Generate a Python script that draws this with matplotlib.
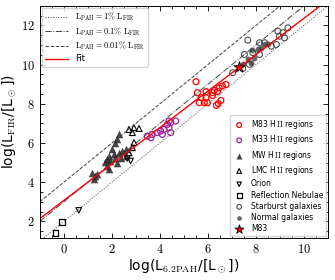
import numpy as np
import matplotlib
matplotlib.use('Agg')
import matplotlib.pyplot as plt
from matplotlib.ticker import MultipleLocator

plt.rcParams['mathtext.fontset'] = 'cm'
plt.rcParams['font.family'] = 'DejaVu Sans'

# reflection nebulae
rn_x = [-0.35, -0.08]
rn_y = [1.42, 1.96]

# Orion
ori_x = [0.62, 2.64, 2.78]
ori_y = [2.56, 5.21, 5.08]

# MW HII regions
mw_x = [2.22, 2.29, 2.15, 2.01, 1.87, 1.80, 1.73, 1.94, 2.08, 2.29, 2.43, 2.57,
        2.36, 2.15, 2.22, 2.57, 1.80, 1.87, 1.31, 1.17, 1.38, 1.24]
mw_y = [6.18, 6.44, 6.02, 5.67, 5.33, 5.16, 5.03, 5.08, 5.42, 5.51, 5.59, 5.67,
        5.25, 5.25, 5.00, 5.33, 4.82, 4.65, 4.31, 4.48, 4.40, 4.14]

# LMC HII regions
lmc_x = [2.71, 2.92, 3.13, 2.85, 2.92, 2.85, 2.71]
lmc_y = [6.69, 6.78, 6.74, 6.53, 6.02, 5.76, 5.50]

# M33 HII regions
m33_x = [3.47, 3.68, 3.89, 3.62, 4.03, 4.17, 4.31, 4.45, 4.66, 4.38, 4.45, 4.10, 4.38]
m33_y = [6.35, 6.44, 6.53, 6.27, 6.61, 6.69, 6.95, 7.04, 7.12, 6.78, 6.53, 6.44, 7.12]

# M83 HII regions
m83h_x = [5.50, 5.56, 5.64, 5.71, 5.85, 5.98, 5.92, 5.92, 6.19, 6.26, 6.40, 6.47,
          6.60, 6.75, 6.54, 6.43, 6.35, 6.19]
m83h_y = [9.13, 8.57, 8.06, 8.31, 8.06, 8.05, 8.62, 8.31, 8.57, 8.68, 8.63, 8.82,
          8.91, 8.99, 8.17, 8.02, 7.92, 8.43]

# starburst galaxies
sb_x = [7.03, 7.52, 7.66, 7.87, 8.15, 8.15, 8.36, 8.85, 8.91, 8.98, 9.19, 9.33,
        9.12, 7.73, 8.64, 7.45]
sb_y = [9.59, 10.52, 11.25, 10.61, 10.52, 11.12, 11.12, 11.03, 11.71, 11.45, 11.37,
        11.88, 11.63, 10.01, 10.94, 9.80]

# normal galaxies
ng_x = [8.22, 8.36, 8.49, 8.08, 7.94, 7.66, 7.80, 7.45, 7.85]
ng_y = [10.86, 11.03, 11.03, 10.78, 10.35, 10.27, 10.10, 10.01, 10.75]

# M83 galaxy
m83_x = [7.31]
m83_y = [9.86]

# fit: log L_FIR = a log L_PAH + b
fit_a = 0.93
fit_b = 3.07

fig = plt.figure(figsize=(3.35, 2.8), dpi=100)
ax = fig.add_axes([0.119, 0.15, 0.86, 0.829])

xx = np.array([-1, 11])
l1, = ax.plot(xx, xx + 2, ls=':', color='0.25', lw=0.7, label=r'$\rm L_{PAH}=1\%\ L_{FIR}$')
l2, = ax.plot(xx, xx + 3, ls='-.', color='0.25', lw=0.7, label=r'$\rm L_{PAH}=0.1\%\ L_{FIR}$')
l3, = ax.plot(xx, xx + 4, ls='--', color='0.25', lw=0.7, label=r'$\rm L_{PAH}=0.01\%\ L_{FIR}$')
l4, = ax.plot(xx, fit_a * xx + fit_b, color='red', lw=1.0, label='Fit')

ms = 18
s1 = ax.scatter(m83h_x, m83h_y, s=ms, facecolors='none', edgecolors='red', lw=0.9,
                label=r'M83 H$\,\rm II$ regions')
s2 = ax.scatter(m33_x, m33_y, s=ms, facecolors='none', edgecolors='#a020a0', lw=0.9,
                label=r'M33 H$\,\rm II$ regions')
s3 = ax.scatter(mw_x, mw_y, s=30, marker='^', color='0.15', alpha=0.85, lw=0,
                label=r'MW H$\,\rm II$ regions')
s4 = ax.scatter(lmc_x, lmc_y, s=18, marker='^', facecolors='none', edgecolors='k', lw=0.8,
                label=r'LMC H$\,\rm II$ regions')
s5 = ax.scatter(ori_x, ori_y, s=16, marker='v', facecolors='none', edgecolors='k', lw=0.8,
                label='Orion')
s6 = ax.scatter(rn_x, rn_y, s=18, marker='s', facecolors='none', edgecolors='k', lw=0.9,
                label='Reflection Nebulae')
s7 = ax.scatter(sb_x, sb_y, s=ms, facecolors='none', edgecolors='0.3', lw=0.8,
                label='Starburst galaxies')
s8 = ax.scatter(ng_x, ng_y, s=ms, color='0.25', alpha=0.8, lw=0,
                label='Normal galaxies')
s9 = ax.scatter(m83_x, m83_y, s=70, marker='*', facecolors='red', edgecolors='k', lw=0.6,
                zorder=5, label='M83')

ax.set_xlim(-1, 11)
ax.set_ylim(1.15, 13)
ax.xaxis.set_major_locator(MultipleLocator(2))
ax.xaxis.set_minor_locator(MultipleLocator(0.5))
ax.yaxis.set_major_locator(MultipleLocator(2))
ax.yaxis.set_minor_locator(MultipleLocator(0.5))
ax.tick_params(which='both', direction='in', top=True, right=True, labelsize=9, width=0.6)
ax.tick_params(which='major', length=3.5)
ax.tick_params(which='minor', length=2)
ax.set_xticks([0, 2, 4, 6, 8, 10])
ax.set_xticklabels([r'$%d$' % v for v in [0, 2, 4, 6, 8, 10]])
ax.set_yticks([2, 4, 6, 8, 10, 12])
ax.set_yticklabels([r'$%d$' % v for v in [2, 4, 6, 8, 10, 12]])
for sp in ax.spines.values():
    sp.set_linewidth(0.7)

ax.set_xlabel(r'log(L$_{\rm 6.2PAH}$/[L$_\odot$])', fontsize=10, labelpad=1)
ax.set_ylabel(r'log(L$_{\rm FIR}$/[L$_\odot$])', fontsize=10, labelpad=2)

leg1 = ax.legend(handles=[l1, l2, l3, l4], loc='upper left', fontsize=6,
                 handlelength=2.8, borderaxespad=0.2, labelspacing=0.25)
ax.add_artist(leg1)
ax.legend(handles=[s1, s2, s3, s4, s5, s6, s7, s8, s9], loc='lower right', fontsize=5.5,
          handlelength=1.5, borderaxespad=0.2, labelspacing=0.3, markerscale=0.8)

fig.savefig('out.png', dpi=100)
